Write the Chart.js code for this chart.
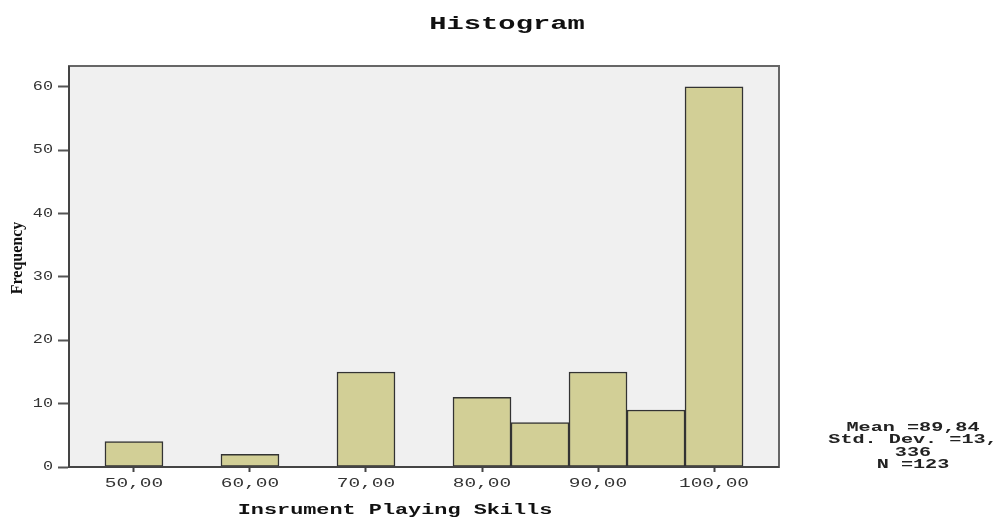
<!DOCTYPE html>
<html><head><meta charset="utf-8">
<script src="https://cdn.jsdelivr.net/npm/chart.js@4/dist/chart.umd.min.js"></script>
<style>html,body{margin:0;padding:0;background:#fff}#wrap{width:996px;height:519px}</style>
</head><body><div id="wrap"><canvas id="c" width="996" height="519"></canvas></div>
<script>
const binCenters = [50, 60, 70, 80, 85, 90, 95, 100];
const frequencies = [4, 2, 15, 11, 7, 15, 9, 60];
const xTicks = [50, 60, 70, 80, 90, 100];
const xTickLabels = ['50,00', '60,00', '70,00', '80,00', '90,00', '100,00'];
const yTicks = [0, 10, 20, 30, 40, 50, 60];
const yTickLabels = ['0', '10', '20', '30', '40', '50', '60'];
const statsLines = ['Mean =89,84', 'Std. Dev. =13,', '336', 'N =123'];
const chartTitle = 'Histogram';
const xTitle = 'Insrument Playing Skills';
const yTitle = 'Frequency';

function stretchText(ctx, text, x, y, font, sx, align, color) {
  ctx.save();
  ctx.font = font; ctx.fillStyle = color;
  ctx.textBaseline = 'middle'; ctx.textAlign = align;
  ctx.translate(x, y); ctx.scale(sx, 1);
  ctx.fillText(text, 0, 0);
  ctx.restore();
}

const decor = {
  id: 'decor',
  beforeDraw(chart) {
    const {ctx, chartArea: a} = chart;
    ctx.save();
    ctx.fillStyle = '#f0f0f0';
    ctx.fillRect(a.left, a.top, a.right - a.left, a.bottom - a.top);
    ctx.restore();
  },
  afterDraw(chart) {
    const {ctx, chartArea: a} = chart;
    const xs = chart.scales.x, ys = chart.scales.y;
    ctx.save();
    ctx.strokeStyle = '#666';
    ctx.lineWidth = 2;
    ctx.strokeRect(a.left, a.top, a.right - a.left, a.bottom - a.top);
    ctx.strokeStyle = '#444';
    ctx.beginPath();
    ctx.moveTo(a.left, a.top); ctx.lineTo(a.left, a.bottom); ctx.lineTo(a.right, a.bottom);
    ctx.stroke();
    ctx.restore();
    xTicks.forEach((v, i) => {
      stretchText(ctx, xTickLabels[i], xs.getPixelForValue(v), a.bottom + 17,
        '12px "Liberation Mono"', 1.62, 'center', '#333');
    });
    yTicks.forEach((v, i) => {
      stretchText(ctx, yTickLabels[i], a.left - 16, ys.getPixelForValue(v),
        '12px "Liberation Mono"', 1.4, 'right', '#333');
    });
    stretchText(ctx, chartTitle, 507, 24, 'bold 18px "Liberation Mono"', 1.6, 'center', '#111');
    stretchText(ctx, xTitle, 395, 510, 'bold 14px "Liberation Mono"', 1.56, 'center', '#111');
    statsLines.forEach((t, i) => {
      stretchText(ctx, t, 913, 428 + i * 12.3, 'bold 12px "Liberation Mono"', 1.68, 'center', '#222');
    });
    ctx.save();
    ctx.translate(18, 258);
    ctx.rotate(-Math.PI / 2);
    ctx.font = 'bold 16px "Liberation Serif"';
    ctx.fillStyle = '#111';
    ctx.textAlign = 'center'; ctx.textBaseline = 'middle';
    ctx.fillText(yTitle, 0, 0);
    ctx.restore();
  }
};

new Chart(document.getElementById('c'), {
  type: 'bar',
  data: {
    datasets: [{
      label: 'Frequency',
      data: binCenters.map((c, i) => ({x: c, y: frequencies[i]})),
      backgroundColor: '#d2cf96',
      borderColor: '#333',
      borderWidth: 1.5,
      borderSkipped: false,
      barPercentage: 1,
      categoryPercentage: 1
    }]
  },
  options: {
    responsive: false,
    devicePixelRatio: 1,
    animation: false,
    layout: {padding: {left: 0, top: 66, right: 217, bottom: 0}},
    plugins: {legend: {display: false}, tooltip: {enabled: false}, title: {display: false}},
    scales: {
      x: {
        type: 'linear', min: 44.4, max: 105.6, offset: false,
        grid: {drawOnChartArea: false, drawTicks: true, tickLength: 5, tickColor: '#444', tickWidth: 2, offset: false},
        border: {display: true, color: '#444', width: 2},
        ticks: {display: false},
        afterBuildTicks: s => { s.ticks = xTicks.map(v => ({value: v})); },
        afterFit: s => { s.height = 52; }
      },
      y: {
        type: 'linear', min: 0, max: 63.3,
        grid: {drawOnChartArea: false, drawTicks: true, tickLength: 11, tickColor: '#555', tickWidth: 2},
        border: {display: true, color: '#444', width: 2},
        ticks: {display: false},
        afterBuildTicks: s => { s.ticks = yTicks.map(v => ({value: v})); },
        afterFit: s => { s.height = undefined; s.width = 69; }
      }
    }
  },
  plugins: [decor]
});
</script>
</body></html>
